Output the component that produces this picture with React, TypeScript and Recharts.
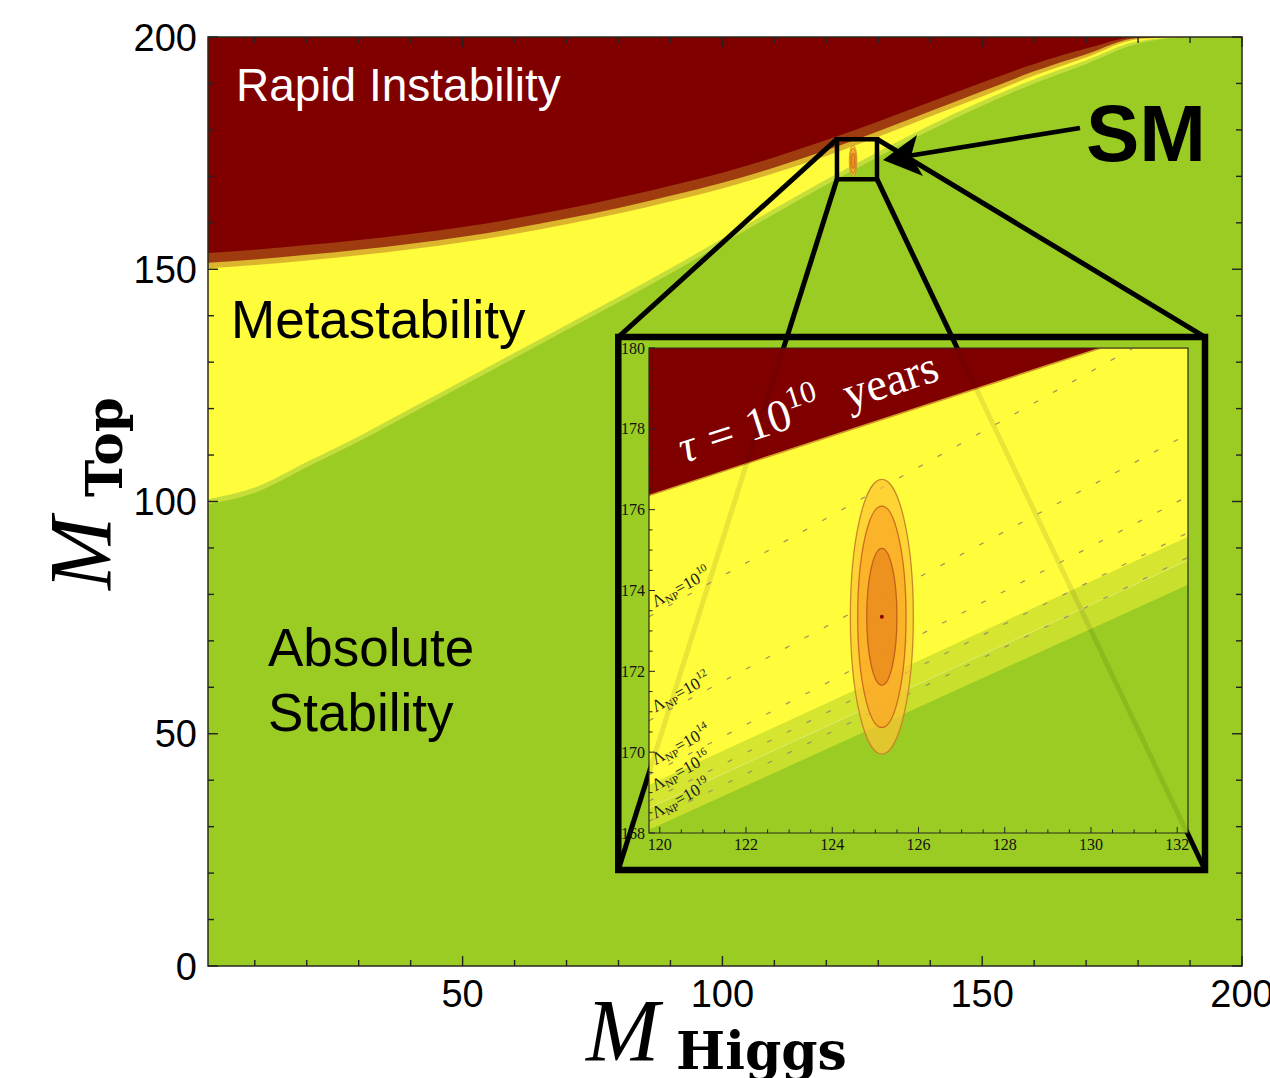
import React from 'react';
import {
  ComposedChart,
  Area,
  Line,
  Scatter,
  XAxis,
  YAxis,
  CartesianGrid,
  ReferenceArea,
  ReferenceLine,
  ReferenceDot,
} from 'recharts';

// ---- main panel: stability regions in the (M_Higgs, M_top) plane, GeV
const higgsGrid = [1, 10, 20, 30, 40, 50, 60, 70, 80, 90, 100, 110, 120, 130, 140, 150, 160, 170, 180, 190, 200];
const rapidEdge = [153.5, 154.2, 155.2, 156.3, 157.6, 159.1, 160.9, 163.0, 165.4, 168.0, 170.8, 174.1, 177.8, 181.8, 186.0, 190.2, 194.2, 197.5, 200, 200, 200];
const brownEdge = [151.4, 152.1, 153.1, 154.2, 155.5, 157.0, 158.8, 160.9, 163.2, 165.8, 168.6, 171.9, 175.6, 179.7, 184.0, 188.3, 192.6, 196.3, 199.8, 200, 200];
const goldEdge = [150.2, 150.9, 151.9, 153.0, 154.3, 155.8, 157.6, 159.7, 162.0, 164.6, 167.4, 170.7, 174.4, 178.5, 182.9, 187.2, 191.7, 195.6, 199.5, 200, 200];
const metaEdge = [100.5, 103.0, 108.5, 114.0, 120.0, 126.0, 132.0, 138.0, 144.0, 150.2, 156.6, 163.0, 169.3, 175.3, 181.0, 186.2, 190.9, 195.0, 199.1, 200, 200];
const rimEdge = [99.4, 101.9, 107.4, 112.9, 118.9, 124.9, 130.9, 136.9, 142.9, 149.1, 155.5, 161.9, 168.2, 174.2, 179.9, 185.2, 190.0, 194.2, 198.6, 200, 200];

const mainXTicks = [10, 20, 30, 40, 50, 60, 70, 80, 90, 100, 110, 120, 130, 140, 150, 160, 170, 180, 190, 200];
const mainYTicks = [0, 10, 20, 30, 40, 50, 60, 70, 80, 90, 100, 110, 120, 130, 140, 150, 160, 170, 180, 190, 200];

// SM measurement: centre and contour half-axes (M_Higgs, M_top)
const smCentre = [125.15, 173.35];
const contourHalfH = [0.73, 0.56, 0.35];
const contourHalfT = [3.4, 2.74, 1.69];
const contourFill = ['#fdc432', '#faa625', '#e8851a'];
const contourStroke = ['#c8882a', '#cc6e1c', '#c0601a'];

// zoom box and where the inset frame sits, main-panel units
const zoomBoxH = [122.05, 129.75];
const zoomBoxT = [169.4, 178.0];
const frameH = [79.96, 192.88];
const frameT = [20.67, 135.4];

// ---- inset
const insetXTicks = [120, 120.5, 121, 121.5, 122, 122.5, 123, 123.5, 124, 124.5, 125, 125.5, 126, 126.5, 127, 127.5, 128, 128.5, 129, 129.5, 130, 130.5, 131, 131.5, 132];
const insetYTicks = [168, 168.5, 169, 169.5, 170, 170.5, 171, 171.5, 172, 172.5, 173, 173.5, 174, 174.5, 175, 175.5, 176, 176.5, 177, 177.5, 178, 178.5, 179, 179.5, 180];

const tauH = [119.75, 130.23, 132.25];
const tauT = [176.35, 180, 180];
const edgeH = [119.75, 132.25];
const paleBandT = [169.19, 175.33];
const oliveBandT = [168.62, 174.75];
const stableT = [168.08, 174.14];

const lambdaExp = ['10', '12', '14', '16', '19'];
const lambdaLeftT = [173.35, 170.78, 169.44, 168.79, 168.29];
const lambdaRightH = [130.98, 132.25, 132.25, 132.25, 132.25];
const lambdaRightT = [180, 177.87, 176.33, 175.43, 174.82];
const lambdaLabelT = [173.58, 170.98, 169.68, 169.03, 168.35];

// the two zoom lines seen faintly through the inset, inset units
const ghostLines = [
  [{ x: 122.86, y: 180 }, { x: 119.75, y: 169.49 }],
  [{ x: 126.89, y: 180 }, { x: 132.23, y: 168 }],
];

const MAIN = { left: 208, right: 1242, top: 37, bottom: 966 };
const INSET = { left: 649, right: 1188, top: 348, bottom: 833 };
const SANS = '"Liberation Sans", Arial, Helvetica, sans-serif';
const SERIF = '"Liberation Serif", "Times New Roman", serif';

const C = {
  red: '#800000',
  brown: '#9e3c10',
  gold: '#dcb52d',
  yellow: '#fefc3b',
  rim: '#c6de3a',
  green: '#9bcc23',
  pale: '#d6e530',
  olive: '#c8df2e',
};

const mainRows = higgsGrid.map((h, i) => ({
  higgs: h,
  rapid: rapidEdge[i],
  brown: brownEdge[i],
  gold: goldEdge[i],
  meta: metaEdge[i],
  rim: rimEdge[i],
}));

const tauRows = tauH.map((h, i) => ({ h, v: tauT[i] }));
const paleRows = edgeH.map((h, i) => ({ h, v: paleBandT[i] }));
const oliveRows = edgeH.map((h, i) => ({ h, v: oliveBandT[i] }));
const stableRows = edgeH.map((h, i) => ({ h, v: stableT[i] }));
const lambdaRows = lambdaExp.map((e, i) => [
  { h: edgeH[0], v: lambdaLeftT[i] },
  { h: lambdaRightH[i], v: lambdaRightT[i] },
]);
const lambdaLabelRows = lambdaExp.map((e, i) => ({ h: 119.9, v: lambdaLabelT[i], exp: e }));

const MainXTick = (props: any) => {
  const x = props.x as number;
  const v = Number(props.payload?.value);
  const major = v % 50 === 0;
  const len = major ? 10 : 6;
  return (
    <g>
      <line x1={x} y1={MAIN.bottom} x2={x} y2={MAIN.bottom - len} stroke="#222" strokeWidth={1.4} />
      <line x1={x} y1={MAIN.top} x2={x} y2={MAIN.top + len} stroke="#222" strokeWidth={1.4} />
      {major && (
        <text x={x} y={MAIN.bottom + 41} textAnchor="middle" fontFamily={SANS} fontSize={38} fill="#000">
          {v}
        </text>
      )}
    </g>
  );
};

const MainYTick = (props: any) => {
  const y = props.y as number;
  const v = Number(props.payload?.value);
  const major = v % 50 === 0;
  const len = major ? 10 : 6;
  return (
    <g>
      <line x1={MAIN.left} y1={y} x2={MAIN.left + len} y2={y} stroke="#222" strokeWidth={1.4} />
      <line x1={MAIN.right} y1={y} x2={MAIN.right - len} y2={y} stroke="#222" strokeWidth={1.4} />
      {major && (
        <text x={MAIN.left - 11} y={y + 13.5} textAnchor="end" fontFamily={SANS} fontSize={38} fill="#000">
          {v}
        </text>
      )}
    </g>
  );
};

const InsetXTick = (props: any) => {
  const x = props.x as number;
  const v = Number(props.payload?.value);
  const major = v % 2 === 0;
  return (
    <g>
      <line x1={x} y1={INSET.bottom} x2={x} y2={INSET.bottom - (major ? 6 : 3.5)} stroke="#222" strokeWidth={1} />
      {major && (
        <text x={x} y={INSET.bottom + 17} textAnchor="middle" fontFamily={SERIF} fontSize={16} fill="#111">
          {v}
        </text>
      )}
    </g>
  );
};

const InsetYTick = (props: any) => {
  const y = props.y as number;
  const v = Number(props.payload?.value);
  const major = v % 2 === 0;
  return (
    <g>
      <line x1={INSET.left} y1={y} x2={INSET.left + (major ? 6 : 3.5)} y2={y} stroke="#222" strokeWidth={1} />
      {major && (
        <text x={INSET.left - 4} y={y + 5.5} textAnchor="end" fontFamily={SERIF} fontSize={16} fill="#111">
          {v}
        </text>
      )}
    </g>
  );
};

const ellipseShape = (fill: string, stroke: string, width: number) => (p: any) => (
  <ellipse
    cx={p.x + p.width / 2}
    cy={p.y + p.height / 2}
    rx={Math.abs(p.width) / 2}
    ry={Math.abs(p.height) / 2}
    fill={fill}
    fillOpacity={0.72}
    stroke={stroke}
    strokeWidth={width}
  />
);

const LambdaLabel = (props: any) => {
  const { cx, cy, payload } = props;
  return (
    <text x={cx} y={cy} transform={`rotate(-29 ${cx} ${cy})`} fontFamily={SERIF} fontSize={17} fill="#1a1a1a">
      Λ
      <tspan fontSize={11} dy={3}>NP</tspan>
      <tspan dy={-3}>=10</tspan>
      <tspan fontSize={11} dy={-8}>{payload.exp}</tspan>
    </text>
  );
};

const TauLabel = (props: any) => {
  const { cx, cy } = props;
  return (
    <text x={cx} y={cy} transform={`rotate(-18 ${cx} ${cy})`} fontFamily={SERIF} fontSize={46} fill="#fff">
      <tspan fontStyle="italic">τ</tspan>
      <tspan dx={14}>=</tspan>
      <tspan dx={14}>10</tspan>
      <tspan dy={-19} fontSize={31}>10</tspan>
      <tspan dx={26} dy={19}>years</tspan>
    </text>
  );
};

const MainPanel = () => (
  <ComposedChart width={1270} height={1078} data={mainRows} margin={{ top: 37, right: 28, bottom: 72, left: 148 }}>
    <CartesianGrid fill={C.green} horizontal={false} vertical={false} />
    <XAxis
      dataKey="higgs"
      type="number"
      domain={[1, 200]}
      allowDataOverflow
      ticks={mainXTicks}
      interval={0}
      tick={(p: any) => <MainXTick {...p} />}
      tickSize={0}
      tickMargin={0}
      tickLine={false}
      axisLine={false}
      height={40}
    />
    <YAxis
      type="number"
      domain={[0, 200]}
      allowDataOverflow
      ticks={mainYTicks}
      interval={0}
      tick={(p: any) => <MainYTick {...p} />}
      tickSize={0}
      tickMargin={0}
      tickLine={false}
      axisLine={false}
      width={60}
    />
    <Area dataKey="rim" type="monotone" baseValue="dataMax" fill={C.rim} fillOpacity={1} stroke="none" isAnimationActive={false} />
    <Area dataKey="meta" type="monotone" baseValue="dataMax" fill={C.yellow} fillOpacity={1} stroke="none" isAnimationActive={false} />
    <Area dataKey="gold" type="monotone" baseValue="dataMax" fill={C.gold} fillOpacity={1} stroke="none" isAnimationActive={false} />
    <Area dataKey="brown" type="monotone" baseValue="dataMax" fill={C.brown} fillOpacity={1} stroke="none" isAnimationActive={false} />
    <Area dataKey="rapid" type="monotone" baseValue="dataMax" fill={C.red} fillOpacity={1} stroke="none" isAnimationActive={false} />
    {contourHalfH.map((hw, i) => (
      <ReferenceArea
        key={`c${i}`}
        x1={smCentre[0] - hw}
        x2={smCentre[0] + hw}
        y1={smCentre[1] - contourHalfT[i]}
        y2={smCentre[1] + contourHalfT[i]}
        ifOverflow="visible"
        zIndex={600}
        shape={ellipseShape(contourFill[i], contourStroke[i], 0.8)}
      />
    ))}
    <ReferenceArea
      x1={zoomBoxH[0]}
      x2={zoomBoxH[1]}
      y1={zoomBoxT[0]}
      y2={zoomBoxT[1]}
      fill="none"
      fillOpacity={0}
      stroke="#000"
      strokeWidth={4.5}
      ifOverflow="visible"
      zIndex={610}
    />
    <ReferenceLine segment={[{ x: zoomBoxH[0], y: zoomBoxT[1] }, { x: frameH[0], y: frameT[1] }]} stroke="#000" strokeWidth={5} ifOverflow="visible" zIndex={620} />
    <ReferenceLine segment={[{ x: zoomBoxH[1], y: zoomBoxT[1] }, { x: frameH[1], y: frameT[1] }]} stroke="#000" strokeWidth={5} ifOverflow="visible" zIndex={620} />
    <ReferenceLine segment={[{ x: zoomBoxH[0], y: zoomBoxT[0] }, { x: frameH[0], y: frameT[0] }]} stroke="#000" strokeWidth={5} ifOverflow="visible" zIndex={620} />
    <ReferenceLine segment={[{ x: zoomBoxH[1], y: zoomBoxT[0] }, { x: frameH[1], y: frameT[0] }]} stroke="#000" strokeWidth={5} ifOverflow="visible" zIndex={620} />
    <ReferenceArea
      x1={frameH[0]}
      x2={frameH[1]}
      y1={frameT[0]}
      y2={frameT[1]}
      fill="none"
      fillOpacity={0}
      stroke="#000"
      strokeWidth={6.5}
      ifOverflow="visible"
      zIndex={630}
    />
    <ReferenceArea x1={1} x2={200} y1={0} y2={200} fill="none" fillOpacity={0} stroke="#2a2a1a" strokeWidth={1.5} ifOverflow="visible" zIndex={640} />
  </ComposedChart>
);

const InsetPanel = () => (
  <ComposedChart width={1270} height={1078} margin={{ top: 348, right: 82, bottom: 215, left: 609 }}>
    <CartesianGrid fill={C.yellow} horizontal={false} vertical={false} />
    <XAxis
      dataKey="h"
      type="number"
      domain={[119.75, 132.25]}
      allowDataOverflow
      ticks={insetXTicks}
      interval={0}
      tick={(p: any) => <InsetXTick {...p} />}
      tickSize={0}
      tickMargin={0}
      tickLine={false}
      axisLine={false}
      height={30}
    />
    <YAxis
      type="number"
      domain={[168, 180]}
      allowDataOverflow
      ticks={insetYTicks}
      interval={0}
      tick={(p: any) => <InsetYTick {...p} />}
      tickSize={0}
      tickMargin={0}
      tickLine={false}
      axisLine={false}
      width={40}
    />
    <Area data={paleRows} dataKey="v" type="linear" baseValue="dataMin" fill={C.pale} fillOpacity={1} stroke="none" isAnimationActive={false} />
    <Area data={oliveRows} dataKey="v" type="linear" baseValue="dataMin" fill={C.olive} fillOpacity={1} stroke="#e2ec7a" strokeWidth={0.8} isAnimationActive={false} />
    <Area data={stableRows} dataKey="v" type="linear" baseValue="dataMin" fill={C.green} fillOpacity={1} stroke="none" isAnimationActive={false} />
    <Area data={tauRows} dataKey="v" type="linear" baseValue="dataMax" fill={C.red} fillOpacity={1} stroke="#d09a28" strokeWidth={1.6} isAnimationActive={false} />
    {ghostLines.map((seg, i) => (
      <ReferenceLine key={`g${i}`} segment={seg} stroke="#000" strokeOpacity={0.09} strokeWidth={5} ifOverflow="visible" zIndex={300} />
    ))}
    {lambdaRows.map((rows, i) => (
      <Line
        key={`l${i}`}
        data={rows}
        dataKey="v"
        type="linear"
        stroke="#9a9462"
        strokeWidth={1.2}
        strokeDasharray="5 17"
        dot={false}
        activeDot={false}
        isAnimationActive={false}
      />
    ))}
    {contourHalfH.map((hw, i) => (
      <ReferenceArea
        key={`ic${i}`}
        x1={smCentre[0] - hw}
        x2={smCentre[0] + hw}
        y1={smCentre[1] - contourHalfT[i]}
        y2={smCentre[1] + contourHalfT[i]}
        ifOverflow="visible"
        zIndex={600}
        shape={ellipseShape(contourFill[i], contourStroke[i], 1.3)}
      />
    ))}
    <ReferenceDot x={smCentre[0]} y={smCentre[1]} r={2} fill="#8b0000" stroke="none" ifOverflow="visible" zIndex={650} />
    <Scatter data={lambdaLabelRows} dataKey="v" shape={(p: any) => <LambdaLabel {...p} />} isAnimationActive={false} />
    <Scatter data={[{ h: 120.56, v: 177.15 }]} dataKey="v" shape={(p: any) => <TauLabel {...p} />} isAnimationActive={false} />
    <ReferenceArea x1={119.75} x2={132.25} y1={168} y2={180} fill="none" fillOpacity={0} stroke="#2a2a1a" strokeWidth={1.2} ifOverflow="visible" zIndex={700} />
  </ComposedChart>
);

const Annotations = () => (
  <svg width={1270} height={1078} style={{ position: 'absolute', left: 0, top: 0, pointerEvents: 'none' }}>
    <text x={236} y={101} fontFamily={SANS} fontSize={46} fill="#fff">Rapid Instability</text>
    <text x={231} y={338} fontFamily={SANS} fontSize={53} fill="#000">Metastability</text>
    <text x={268} y={666} fontFamily={SANS} fontSize={53} fill="#000">Absolute</text>
    <text x={268} y={731} fontFamily={SANS} fontSize={53} fill="#000">Stability</text>
    <text x={1086} y={161} fontFamily={SANS} fontSize={80} fontWeight="bold" fill="#000">SM</text>
    <line x1={1080} y1={128} x2={908} y2={156} stroke="#000" strokeWidth={4.8} />
    <polygon points="883,160 917,135 911,156 923,176" fill="#000" />
    <text x={586} y={1060} fontFamily={SERIF} fontStyle="italic" fontSize={88} fill="#000">M</text>
    <text x={676} y={1069} fontFamily='"DejaVu Serif", serif' fontWeight="bold" fontSize={52} fill="#000">Higgs</text>
    <g transform="translate(110 590) rotate(-90)">
      <text x={0} y={0} fontFamily={SERIF} fontStyle="italic" fontSize={88} fill="#000">M</text>
      <text x={93} y={12} fontFamily='"DejaVu Serif", serif' fontWeight="bold" fontSize={50} fill="#000">Top</text>
    </g>
  </svg>
);

export default function App() {
  return (
    <div style={{ position: 'absolute', left: 0, top: 0, width: 1270, height: 1078, background: '#fff', overflow: 'hidden' }}>
      <div style={{ position: 'absolute', left: 0, top: 0 }}>
        <MainPanel />
      </div>
      <div style={{ position: 'absolute', left: 0, top: 0 }}>
        <InsetPanel />
      </div>
      <Annotations />
    </div>
  );
}
